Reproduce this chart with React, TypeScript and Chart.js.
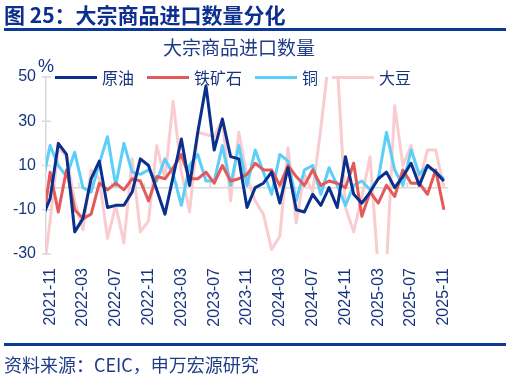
import React, { useEffect, useRef } from 'react';
import { Chart, registerables } from 'chart.js';

Chart.register(...registerables);

// months, first entry (2021-10) lies just left of the visible axis start
const months = [
  '2021-10', '2021-11', '2021-12',
  '2022-01', '2022-02', '2022-03', '2022-04', '2022-05', '2022-06', '2022-07', '2022-08', '2022-09', '2022-10', '2022-11', '2022-12',
  '2023-01', '2023-02', '2023-03', '2023-04', '2023-05', '2023-06', '2023-07', '2023-08', '2023-09', '2023-10', '2023-11', '2023-12',
  '2024-01', '2024-02', '2024-03', '2024-04', '2024-05', '2024-06', '2024-07', '2024-08', '2024-09', '2024-10', '2024-11', '2024-12',
  '2025-01', '2025-02', '2025-03', '2025-04', '2025-05', '2025-06', '2025-07', '2025-08', '2025-09', '2025-10', '2025-11',
];

const tickLabels = [
  '2021-11', '2022-03', '2022-07', '2022-11', '2023-03', '2023-07', '2023-11',
  '2024-03', '2024-07', '2024-11', '2025-03', '2025-07', '2025-11',
];

const yTicks = [-30, -10, 10, 30, 50];

const crudeOil = [-14, -5, 20, 15, -20, -14, 4, 12, -9, -8, -8, -2, 13, 10, -1, -12, 5, 22, 1, 25, 46, 17, 31, 14, 13, -9, 0, 2, 7, -7, 9, -10, -11, -3, -8, 0, -9, 14, -3, -7, -2, 4, 7, 0, 5, 11, 1, 10, 7, 3];
const ironOre = [-20, 7, -11, 8, -10, -14, -12, 2, -1, 2, -1, 4, 3, -6, 5, 4, 9, 15, 4, 4, 7, 2, 10, 3, 4, 6, 11, 8, 8, 1, 10, 5, 1, 8, 1, 3, 2, 0, 11, -13, -2, -7, 1, -4, 8, 2, 2, -3, 8, -10];
const copper = [1, 19, 10, 5, 16, 0, -2, 11, 23, 1, 20, 7, 6, 8, 3, 13, 6, -8, 10, 15, 3, 3, 19, 1, 19, 1, 17, 7, -3, 15, 12, -6, 8, 10, -3, 9, 1, -8, 1, 3, -1, 4, 25, 8, 1, 17, 6, 10, 7, 4];
const soybean = [-45, -15, 18, 14, -6, -19, 8, 4, -23, -8, -25, 13, -20, -15, 19, 4, 39, 7, -11, 25, 24, 23, 31, -6, 25, 5, -6, -12, -28, -22, 18, -16, 6, -2, 27, 59, 56, -9, -20, -4, 14, -37, -36, 37, 10, 19, 3, 17, 17, 0];

const seriesNames = ['原油', '铁矿石', '铜', '大豆'];
const seriesValues = [crudeOil, ironOre, copper, soybean];
const seriesColors = ['#0A2F8C', '#E35A5A', '#5CCFF8', '#F9CDD0'];

const TEXT = '#17357F';
const GRID = '#D9D9D9';
const LATIN = "'Liberation Sans', Arial, sans-serif";
const CJK = "'Noto Sans CJK SC', 'Noto Sans', sans-serif";

const pos = (label: string) => months.indexOf(label) - 1;

const decorPlugin = {
  id: 'decor',
  beforeDatasetsDraw(chart: any) {
    const { ctx, chartArea } = chart;
    const x = chart.scales.x;
    const y = chart.scales.y;
    const y0 = y.getPixelForValue(0);
    ctx.save();
    ctx.strokeStyle = GRID;
    ctx.lineWidth = 1.5;
    ctx.beginPath();
    ctx.moveTo(chartArea.left, y0);
    ctx.lineTo(chartArea.right, y0);
    tickLabels.forEach((l) => {
      const v = pos(l) + 3.5;
      if (v < x.max) {
        const px = x.getPixelForValue(v);
        ctx.moveTo(px, y0);
        ctx.lineTo(px, y0 - 5);
      }
    });
    y.ticks.forEach((t: any) => {
      const py = y.getPixelForValue(t.value);
      ctx.moveTo(chartArea.left - 4, py);
      ctx.lineTo(chartArea.left + 5, py);
    });
    ctx.stroke();
    ctx.restore();
  },
};

export default function App() {
  const ref = useRef<HTMLCanvasElement>(null);

  useEffect(() => {
    document.body.style.margin = '0';
    const datasets = seriesNames.map((name, s) => ({
      label: name,
      data: seriesValues[s].map((v, k) => ({ x: k - 1, y: v })),
      borderColor: seriesColors[s],
      backgroundColor: seriesColors[s],
      borderWidth: 3,
      pointRadius: 0,
      tension: 0,
      borderJoinStyle: 'round' as const,
      clip: 0,
    }));
    const chart = new Chart(ref.current as HTMLCanvasElement, {
      type: 'line',
      data: { datasets },
      options: {
        animation: false,
        responsive: false,
        maintainAspectRatio: false,
        layout: { padding: { left: 0, right: 63, top: 77, bottom: 45 } },
        plugins: { legend: { display: false }, tooltip: { enabled: false }, title: { display: false } },
        scales: {
          x: {
            type: 'linear',
            min: -0.5,
            max: 48.5,
            grid: { display: false, drawTicks: false },
            border: { display: false },
            afterBuildTicks: (scale: any) => {
              scale.ticks = tickLabels.map((l) => ({ value: pos(l) }));
            },
            afterFit: (scale: any) => {
              scale.height = 80;
            },
            ticks: {
              autoSkip: false,
              maxRotation: 90,
              minRotation: 90,
              padding: 14,
              color: TEXT,
              font: { family: LATIN, size: 16 },
              callback: (v: any) => months[Number(v) + 1],
            },
          },
          y: {
            min: yTicks[0],
            max: yTicks[yTicks.length - 1],
            afterBuildTicks: (scale: any) => {
              scale.ticks = yTicks.map((v) => ({ value: v }));
            },
            afterFit: (scale: any) => {
              scale.width = 46;
            },
            grid: { drawOnChartArea: false, drawTicks: false },
            border: { display: true, color: GRID, width: 1.5 },
            ticks: {
              padding: 10,
              color: TEXT,
              font: { family: LATIN, size: 16 },
            },
          },
        },
      },
      plugins: [decorPlugin],
    });
    return () => chart.destroy();
  }, []);

  const legendGaps = [13, 13, 14, 0];

  return (
    <div style={{ position: 'relative', width: 511, height: 379, background: '#fff', overflow: 'hidden' }}>
      <canvas
        ref={ref}
        width={511}
        height={379}
        style={{ position: 'absolute', left: 0, top: 0, width: 511, height: 379 }}
      />
      <div
        style={{
          position: 'absolute', left: 4, top: 2, font: `bold 21px ${CJK}`, lineHeight: '24px',
          color: '#0D2F8E', whiteSpace: 'nowrap',
        }}
      >
        图 25：大宗商品进口数量分化
      </div>
      <div style={{ position: 'absolute', left: 4, top: 28, width: 502, height: 3, background: '#0B3A94' }} />
      <div
        style={{
          position: 'absolute', left: 163, top: 37, font: `19px ${CJK}`, lineHeight: '20px',
          color: '#1F3C88', whiteSpace: 'nowrap',
        }}
      >
        大宗商品进口数量
      </div>
      <div
        style={{
          position: 'absolute', left: 38, top: 57, font: `18px ${LATIN}`, lineHeight: '18px', color: TEXT,
        }}
      >
        %
      </div>
      <div
        style={{
          position: 'absolute', left: 55, top: 67, height: 20, display: 'flex', alignItems: 'center',
          whiteSpace: 'nowrap',
        }}
      >
        {seriesNames.map((name, s) => (
          <div key={name} style={{ display: 'flex', alignItems: 'center', marginRight: legendGaps[s] }}>
            <div style={{ width: 42, height: 3, background: seriesColors[s], marginRight: 5 }} />
            <span style={{ font: `16px ${CJK}`, lineHeight: '20px', color: TEXT }}>{name}</span>
          </div>
        ))}
      </div>
      <div style={{ position: 'absolute', left: 4, top: 343, width: 502, height: 3, background: '#0B3A94' }} />
      <div
        style={{
          position: 'absolute', left: 4, top: 353, font: `18px ${CJK}`, lineHeight: '22px',
          color: '#1F3C88', whiteSpace: 'nowrap',
        }}
      >
        资料来源：CEIC，申万宏源研究
      </div>
    </div>
  );
}
